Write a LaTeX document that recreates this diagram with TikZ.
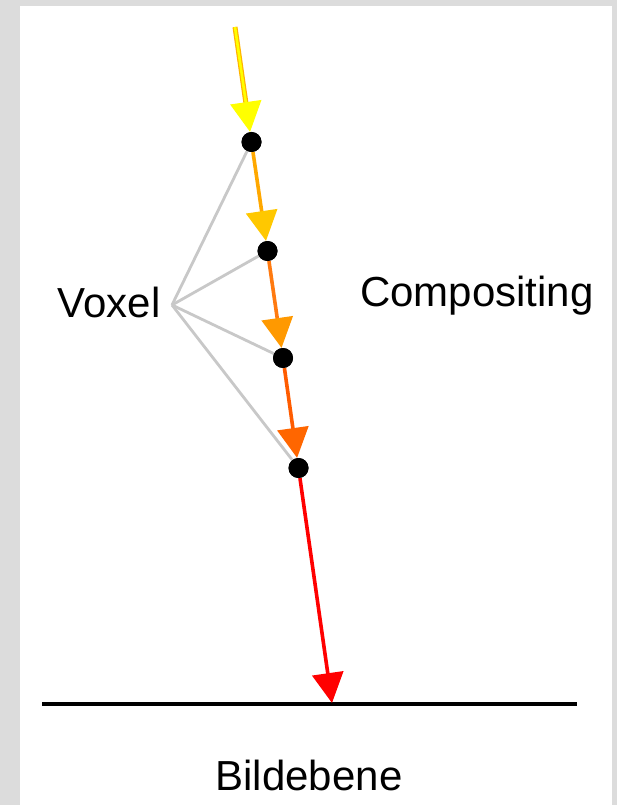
\documentclass[tikz,border=0pt]{standalone}
\usepackage{fontspec}
\setmainfont{Liberation Sans}
\usetikzlibrary{arrows.meta}
\definecolor{bgframe}{HTML}{DCDCDC}
\definecolor{vgrey}{HTML}{C8C8C8}
\definecolor{cA}{HTML}{FFFF00}
\definecolor{cAedge}{HTML}{FFB400}
\definecolor{cB}{HTML}{FFA800}
\definecolor{cBh}{HTML}{FFC800}
\definecolor{cC}{HTML}{FF7A10}
\definecolor{cCh}{HTML}{FF9900}
\definecolor{cD}{HTML}{FF5C00}
\definecolor{cDh}{HTML}{FF6600}
\definecolor{cE}{HTML}{FF0000}
\tikzset{
  voxdot/.style={circle,fill=black,inner sep=0pt,minimum size=20pt},
  lbl/.style={inner sep=0pt,anchor=base,font=\fontsize{42}{50}\selectfont},
  raytip/.style={-{Triangle[length=30pt,width=31pt,fill=#1,color=#1]}},
  raysegment/.style={line width=3.6pt},
  voxlink/.style={draw=vgrey,line width=2.8pt}
}
\begin{document}
\begin{tikzpicture}[x=1pt,y=-1pt]
\useasboundingbox (0,0) rectangle (617,805);
\fill[bgframe] (0,0) rectangle (617,805);
\fill[white] (20,6) rectangle (612,805);

% ray points
\coordinate (s) at (235,27);
\node[voxdot] (d1) at (251.5,142) {};
\node[voxdot] (d2) at (267.5,251) {};
\node[voxdot] (d3) at (283,358) {};
\node[voxdot] (d4) at (298.5,468) {};
\coordinate (e) at (332,703);

% image plane
\coordinate (pl) at (42,704);
\coordinate (pr) at (577,704);
\draw[line width=3.5pt] (pl) -- (pr);

% voxel links
\coordinate (vx) at (172,305);
\foreach \d in {d1,d2,d3,d4} \draw[voxlink] (vx) -- (\d);

% ray segments
\draw[cAedge,line width=5pt,shorten >=20pt] (s) -- (d1);
\draw[cA,line width=2.6pt,raytip=cA] (s) -- (d1);
\draw[raysegment,cB,raytip=cBh] (d1) -- (d2);
\draw[raysegment,cC,raytip=cCh] (d2) -- (d3);
\draw[raysegment,cD,raytip=cDh] (d3) -- (d4);
\draw[raysegment,cE,raytip=cE] (d4) -- (e);

% redraw dots on top
\foreach \d in {d1,d2,d3,d4} \fill (\d) circle (10pt);

% labels
\node[lbl] (voxel) at (109,317) {Voxel};
\node[lbl] (comp) at (477,306) {Compositing};
\node[lbl] (bild) at (309,790) {Bildebene};
\end{tikzpicture}
\end{document}
